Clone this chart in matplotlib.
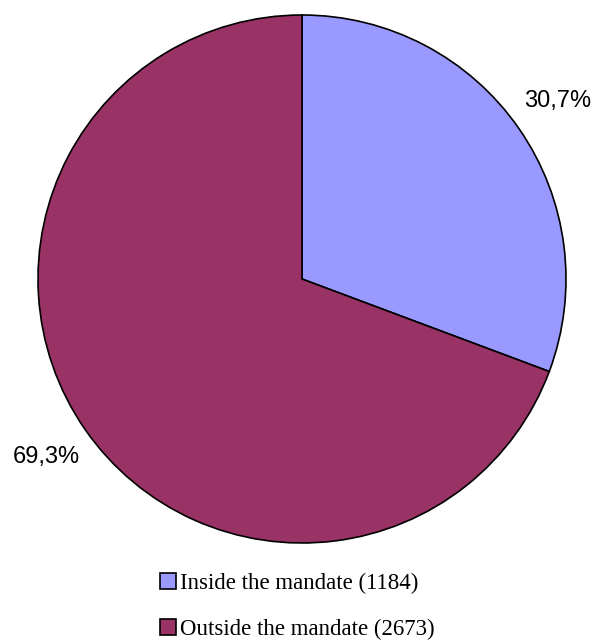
import matplotlib
matplotlib.use("Agg")
import matplotlib.pyplot as plt
from matplotlib.patches import Patch
import numpy as np

categories = ["Inside the mandate", "Outside the mandate"]
counts = [1184, 2673]
percents = ["30,7%", "69,3%"]
colors = ["#9999FF", "#993366"]

fig = plt.figure(figsize=(5.98, 6.42), dpi=100)
ax = fig.add_axes([38/598, (642-543)/642, 528/598, 528/642])
wedges, _ = ax.pie(counts, colors=colors, startangle=90, counterclock=False,
                   wedgeprops=dict(edgecolor="black", linewidth=1.2))
ax.set_aspect("equal")

total = sum(counts)
start = 90.0
for c, p in zip(counts, percents):
    span = 360.0 * c / total
    mid = np.deg2rad(start - span / 2)
    r = 1.18
    ax.text(r*np.cos(mid), r*np.sin(mid), p, ha="center", va="center",
            fontsize=17, family=["Liberation Sans", "DejaVu Sans"], clip_on=False)
    start -= span
ax.set_xlim(-1.0, 1.0)
ax.set_ylim(-1.0, 1.0)

handles = [Patch(facecolor=col, edgecolor="black", linewidth=1.2) for col in colors]
labels = [f"{cat} ({n})" for cat, n in zip(categories, counts)]
fig.legend(handles, labels, loc="upper left", bbox_to_anchor=(153/598, 1-566/642),
           frameon=False, prop=dict(family=["Liberation Serif", "DejaVu Serif"], size=16.5),
           handlelength=0.7, handleheight=0.7, handletextpad=0.2, labelspacing=1.1,
           borderaxespad=0, borderpad=0.3)

fig.savefig("out.png", dpi=100)
